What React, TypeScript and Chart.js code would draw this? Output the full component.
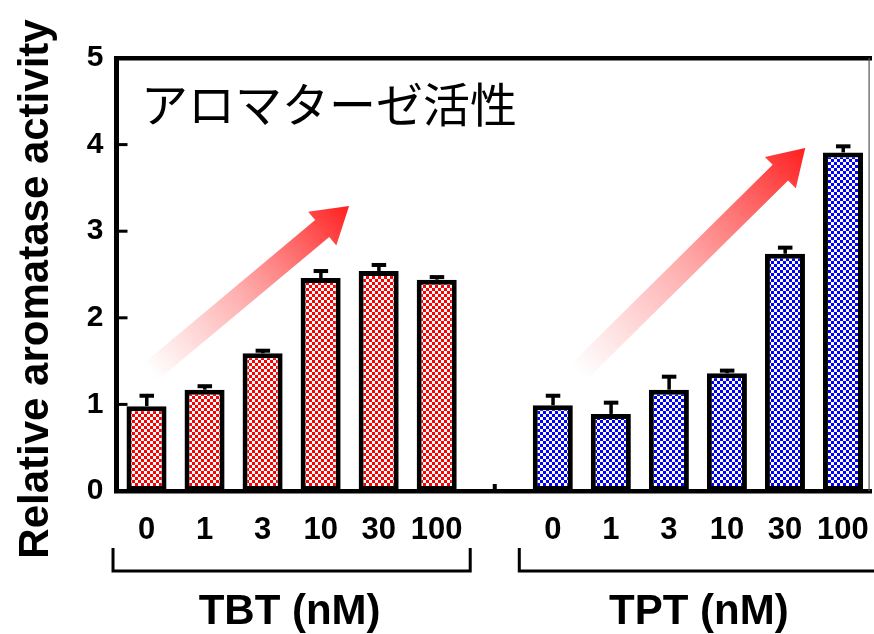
import React, { useEffect, useRef } from "react";
import { Chart, registerables } from "chart.js";

Chart.register(...registerables);

const categories = ["0", "1", "3", "10", "30", "100", "", "0", "1", "3", "10", "30", "100"];
const tbtValues = [0.98, 1.17, 1.59, 2.46, 2.54, 2.44];
const tbtErrors = [0.12, 0.04, 0.03, 0.08, 0.07, 0.03];
const tptValues = [0.99, 0.89, 1.17, 1.36, 2.74, 3.91];
const tptErrors = [0.11, 0.13, 0.15, 0.03, 0.07, 0.07];
const yTicks = [0, 1, 2, 3, 4, 5];
const groupLabels = ["TBT (nM)", "TPT (nM)"];
const yTitle = "Relative aromatase activity";
const chartTitle = "アロマターゼ活性";

const FONT = "'Liberation Sans', Arial, sans-serif";

function makeChecker(color: string): CanvasPattern | string {
  const c = document.createElement("canvas");
  const s = 3;
  c.width = s * 2;
  c.height = s * 2;
  const g = c.getContext("2d")!;
  g.fillStyle = "#ffffff";
  g.fillRect(0, 0, s * 2, s * 2);
  g.fillStyle = color;
  g.fillRect(0, 0, s, s);
  g.fillRect(s, s, s, s);
  const p = g.createPattern(c, "repeat");
  return p || color;
}

function drawArrow(ctx: CanvasRenderingContext2D, x0: number, y0: number, x1: number, y1: number) {
  const dx = x1 - x0, dy = y1 - y0;
  const len = Math.hypot(dx, dy);
  const ux = dx / len, uy = dy / len;
  const nx = -uy, ny = ux;
  const shaftW = 22, headW = 44, headL = 35;
  const bx = x1 - ux * headL, by = y1 - uy * headL;
  const grad = ctx.createLinearGradient(x0, y0, x1, y1);
  grad.addColorStop(0, "rgba(255,90,90,0)");
  grad.addColorStop(0.45, "rgba(255,80,80,0.45)");
  grad.addColorStop(1, "rgba(255,30,30,1)");
  ctx.save();
  ctx.fillStyle = grad;
  ctx.beginPath();
  ctx.moveTo(x0 + nx * shaftW / 2, y0 + ny * shaftW / 2);
  ctx.lineTo(bx + nx * shaftW / 2, by + ny * shaftW / 2);
  ctx.lineTo(bx + nx * headW / 2, by + ny * headW / 2);
  ctx.lineTo(x1, y1);
  ctx.lineTo(bx - nx * headW / 2, by - ny * headW / 2);
  ctx.lineTo(bx - nx * shaftW / 2, by - ny * shaftW / 2);
  ctx.lineTo(x0 - nx * shaftW / 2, y0 - ny * shaftW / 2);
  ctx.closePath();
  ctx.fill();
  ctx.restore();
}

const decorPlugin = {
  id: "decor",
  beforeDatasetsDraw(chart: any) {
    const ctx: CanvasRenderingContext2D = chart.ctx;
    const xs = chart.scales.x, ys = chart.scales.y;
    drawArrow(ctx, xs.getPixelForValue(0.06), ys.getPixelForValue(1.37), xs.getPixelForValue(3.49), ys.getPixelForValue(3.29));
    drawArrow(ctx, xs.getPixelForValue(7.44), ys.getPixelForValue(1.37), xs.getPixelForValue(11.35), ys.getPixelForValue(3.96));
  },
  afterDatasetsDraw(chart: any) {
    const ctx: CanvasRenderingContext2D = chart.ctx;
    const { left, right, top, bottom } = chart.chartArea;
    const xs = chart.scales.x, ys = chart.scales.y;
    ctx.save();
    // error bars
    const errs = [tbtErrors, tptErrors];
    const vals = [tbtValues, tptValues];
    [0, 1].forEach((di) => {
      const meta = chart.getDatasetMeta(di);
      const offset = di === 0 ? 0 : 7;
      vals[di].forEach((v, i) => {
        const el = meta.data[i + offset];
        if (!el) return;
        const yTop = ys.getPixelForValue(v + errs[di][i]);
        const yBar = ys.getPixelForValue(v);
        ctx.fillStyle = "#000";
        ctx.fillRect(el.x - 1.5, yTop, 3.5, yBar - yTop);
        ctx.fillRect(el.x - 7, yTop - 2, 14.5, 4);
      });
    });
    // frame
    ctx.fillStyle = "#000";
    ctx.fillRect(left - 3.5, top - 2, right - left + 3.5, 4.5); // top
    ctx.fillRect(left - 3.5, top - 2, 5, bottom - top + 4); // left
    ctx.fillRect(left - 3.5, bottom - 2, right - left + 3.5, 4.5); // bottom
    ctx.fillStyle = "#555";
    ctx.fillRect(right - 3.5, top, 1.2, bottom - top);
    // inner y ticks
    ctx.fillStyle = "#000";
    yTicks.forEach((t) => {
      if (t === 0 || t === 5) return;
      const y = ys.getPixelForValue(t);
      ctx.fillRect(left, y - 1.5, 10, 3);
    });
    // separator tick between groups
    const mx = xs.getPixelForValue(6);
    ctx.fillRect(mx - 2, bottom - 7, 4, 7);
    // brackets
    const groups = [[0, 5], [7, 12]];
    ctx.lineWidth = 3;
    ctx.strokeStyle = "#000";
    groups.forEach((g, gi) => {
      const x0 = xs.getPixelForValue(g[0]) - 33.5;
      const x1 = xs.getPixelForValue(g[1]) + 33.5;
      ctx.beginPath();
      ctx.moveTo(x0, 548);
      ctx.lineTo(x0, 571);
      ctx.lineTo(x1, 571);
      ctx.lineTo(x1, 548);
      ctx.stroke();
      ctx.font = `bold 42px ${FONT}`;
      ctx.textAlign = "center";
      ctx.textBaseline = "middle";
      ctx.fillStyle = "#000";
      const cx = gi === 0 ? (x0 + x1) / 2 - 2 : (x0 + x1) / 2 + 1;
      ctx.fillText(groupLabels[gi], cx, 612);
    });
    // y title
    ctx.save();
    ctx.translate(36, 289);
    ctx.rotate(-Math.PI / 2);
    ctx.font = `bold 42px ${FONT}`;
    ctx.textAlign = "center";
    ctx.textBaseline = "middle";
    ctx.fillText(yTitle, 0, 0);
    ctx.restore();
    // chart title
    ctx.font = `47px 'Noto Sans CJK JP', sans-serif`;
    ctx.textAlign = "left";
    ctx.textBaseline = "middle";
    ctx.fillText(chartTitle, 141, 104);
    ctx.restore();
  },
};

export default function App() {
  const ref = useRef<HTMLCanvasElement | null>(null);
  useEffect(() => {
    if (!ref.current) return;
    const pad = (arr: number[], before: number, after: number) => [
      ...Array(before).fill(null),
      ...arr,
      ...Array(after).fill(null),
    ];
    const chart = new Chart(ref.current, {
      type: "bar",
      data: {
        labels: categories,
        datasets: [
          {
            label: "TBT",
            data: pad(tbtValues, 0, 7),
            backgroundColor: makeChecker("#ff0000") as any,
            borderColor: "#000",
            borderWidth: 5,
            borderSkipped: false,
            grouped: false,
            barPercentage: 0.69,
            categoryPercentage: 1,
          } as any,
          {
            label: "TPT",
            data: pad(tptValues, 7, 0),
            backgroundColor: makeChecker("#0000ff") as any,
            borderColor: "#000",
            borderWidth: 5,
            borderSkipped: false,
            grouped: false,
            barPercentage: 0.69,
            categoryPercentage: 1,
          } as any,
        ],
      },
      options: {
        responsive: false,
        animation: false,
        layout: { padding: { top: 58, right: 2, left: 0, bottom: 0 } },
        plugins: { legend: { display: false }, tooltip: { enabled: false } },
        scales: {
          x: {
            grid: { display: false, drawTicks: false },
            border: { display: false },
            ticks: {
              color: "#000",
              font: { family: FONT, size: 31, weight: "bold" },
              padding: 21,
              maxRotation: 0,
              autoSkip: false,
            },
            afterFit: (s: any) => {
              s.height = 143;
              s.paddingLeft = 0;
              s.paddingRight = 0;
            },
          },
          y: {
            min: 0,
            max: 5,
            grid: { display: false, drawTicks: false },
            border: { display: false },
            ticks: {
              color: "#000",
              stepSize: 1,
              font: { family: FONT, size: 30, weight: "bold" },
              padding: 14,
            },
            afterFit: (s: any) => {
              s.width = 117.5;
              s.paddingTop = 0;
              s.paddingBottom = 0;
            },
          },
        },
      },
      plugins: [decorPlugin],
    });
    return () => chart.destroy();
  }, []);
  return (
    <div style={{ position: "absolute", left: 0, top: 0, width: 874, height: 634, background: "#fff" }}>
      <canvas ref={ref} width={874} height={634} />
    </div>
  );
}
